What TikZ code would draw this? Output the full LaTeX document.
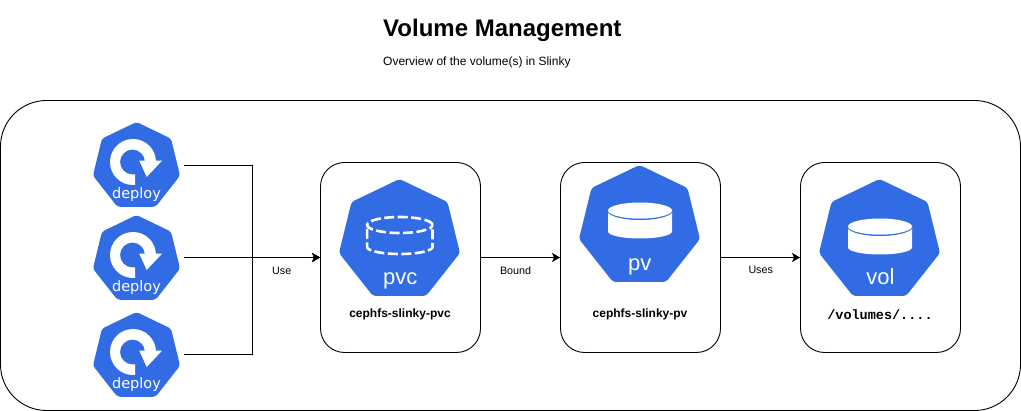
\documentclass[tikz,border=0pt]{standalone}
\usepackage{fontspec}
\setmainfont{Liberation Sans}
\newfontfamily\iconfont{DejaVu Sans}
\setmonofont{Liberation Mono}
\usetikzlibrary{arrows.meta}
\definecolor{kblue}{RGB}{50,108,229}
\tikzset{
  x=1pt,y=-1pt,
  cardbox/.style={draw=black,line width=0.9pt,rounded corners=24pt,fill=white,minimum width=160pt,minimum height=190pt,inner sep=0pt},
  conn/.style={draw=black,line width=1pt,-{Stealth[length=8pt,width=9pt,inset=2pt]}},
  ghost/.style={inner sep=0pt,minimum width=95pt,minimum height=85pt},
  lbl/.style={font=\fontsize{10.7}{12}\selectfont,inner sep=0pt,anchor=base},
  capt/.style={font=\fontsize{12}{14}\selectfont\bfseries,inner sep=0pt,anchor=base},
  icontext/.style={text=white,inner sep=0pt,anchor=base},
  bigicon/.style={icontext,font=\fontsize{22}{26}\selectfont},
}
\newcommand{\hepta}[4]{% cx, top, sx, sy
  \fill[kblue,rounded corners=3pt] (#1,#2)
   -- (#1+48*#3,#2+23*#4) -- (#1+60.5*#3,#2+74*#4) -- (#1+26.5*#3,#2+117*#4)
   -- (#1-26.5*#3,#2+117*#4) -- (#1-60.5*#3,#2+74*#4) -- (#1-48*#3,#2+23*#4) -- cycle;
}
\newcommand{\deployicon}[3]{% name, cx, top
  \hepta{#2}{#3}{0.72}{0.725}
  \fill[white] (#2-1.5,#3+63) -- (#2-3.5,#3+63)
     arc[start angle=270,end angle=0,radius=23pt] -- (#2+8.5,#3+40)
     arc[start angle=0,end angle=270,radius=12.5pt] -- (#2-1.5,#3+52.5) -- cycle;
  \fill[white] (#2+2.8,#3+38.7) -- (#2+25.5,#3+38.7) -- (#2+10.2,#3+55) -- cycle;
  \node[icontext,font=\iconfont\fontsize{14.5}{16}\selectfont] at (#2,#3+76.3) {deploy};
  \node[ghost] (#1) at (#2,#3+42.5) {};
}
\newcommand{\cylfill}[2]{% cx, ellipse centre y
  \fill[white] (#1-32,#2) -- (#1-32,#2+21) arc[start angle=180,end angle=360,x radius=32pt,y radius=7pt]
     -- (#1+32,#2) -- cycle;
  \draw[kblue,line width=1.5pt] (#1-32,#2) arc[start angle=180,end angle=360,x radius=32pt,y radius=8.7pt];
  \fill[white] (#1,#2) ellipse[x radius=32pt,y radius=8pt];
}
\begin{document}
\begin{tikzpicture}
\useasboundingbox (0,0) rectangle (1021,411);
% outer frame
\node[draw=black,line width=0.9pt,rounded corners=46pt,minimum width=1020pt,minimum height=310pt,inner sep=0pt] (frame) at (510.5,255.5) {};
% title
\node[font=\fontsize{24}{28}\selectfont\bfseries,anchor=base west,inner sep=0pt] (title) at (383,37) {Volume Management};
\node[font=\fontsize{12}{14}\selectfont,anchor=base west,inner sep=0pt] (sub) at (383,65.5) {Overview of the volume(s) in Slinky};
% cards
\node[cardbox] (pvcbox) at (400.5,257.5) {};
\node[cardbox] (pvbox) at (640.5,257.5) {};
\node[cardbox] (volbox) at (880.5,257.5) {};
% deploy icons
\deployicon{d1}{136.5}{122}
\deployicon{d2}{136.5}{215}
\deployicon{d3}{136.5}{312}
% pvc icon
\hepta{399.5}{179}{1}{1}
\draw[white,line width=2.6pt,dash pattern=on 10pt off 3.5pt] (399.8,225) ellipse[x radius=32.7pt,y radius=8pt];
\draw[white,line width=2.6pt,dash pattern=on 10pt off 3.5pt] (367.1,229) -- (367.1,247) arc[start angle=180,end angle=360,x radius=32.7pt,y radius=7pt] -- (432.5,229);
\node[bigicon] (pvctext) at (400.3,285) {pvc};
% pv icon
\hepta{639.5}{165}{1}{1}
\cylfill{640}{210.5}
\node[bigicon] (pvtext) at (639.7,271) {pv};
% vol icon
\hepta{879.5}{179}{1}{1}
\cylfill{880}{226.5}
\node[bigicon] (voltext) at (880.5,285) {vol};
% captions
\node[capt] (c1) at (400,318) {cephfs-slinky-pvc};
\node[capt] (c2) at (640,318) {cephfs-slinky-pv};
\node[font=\fontsize{13.5}{16}\selectfont\ttfamily\bfseries,inner sep=0pt,anchor=base] (c3) at (880,319.3) {/volumes/....};
% connectors
\path[conn] (d1.east |- 0,165.5) -- (252,165.5) -- (252,257.5) -- (pvcbox.west);
\path[conn] (d3.east |- 0,355) -- (252,355) -- (252,257.5) -- (pvcbox.west);
\path[conn] (d2.east |- pvcbox.west) -- (pvcbox.west);
\path[conn] (pvcbox.east) -- (pvbox.west);
\path[conn] (pvbox.east) -- (volbox.west);
\node[lbl] (use) at (281.7,275) {Use};
\node[lbl] (bound) at (515.5,275) {Bound};
\node[lbl] (uses) at (760.7,274) {Uses};
\end{tikzpicture}
\end{document}
